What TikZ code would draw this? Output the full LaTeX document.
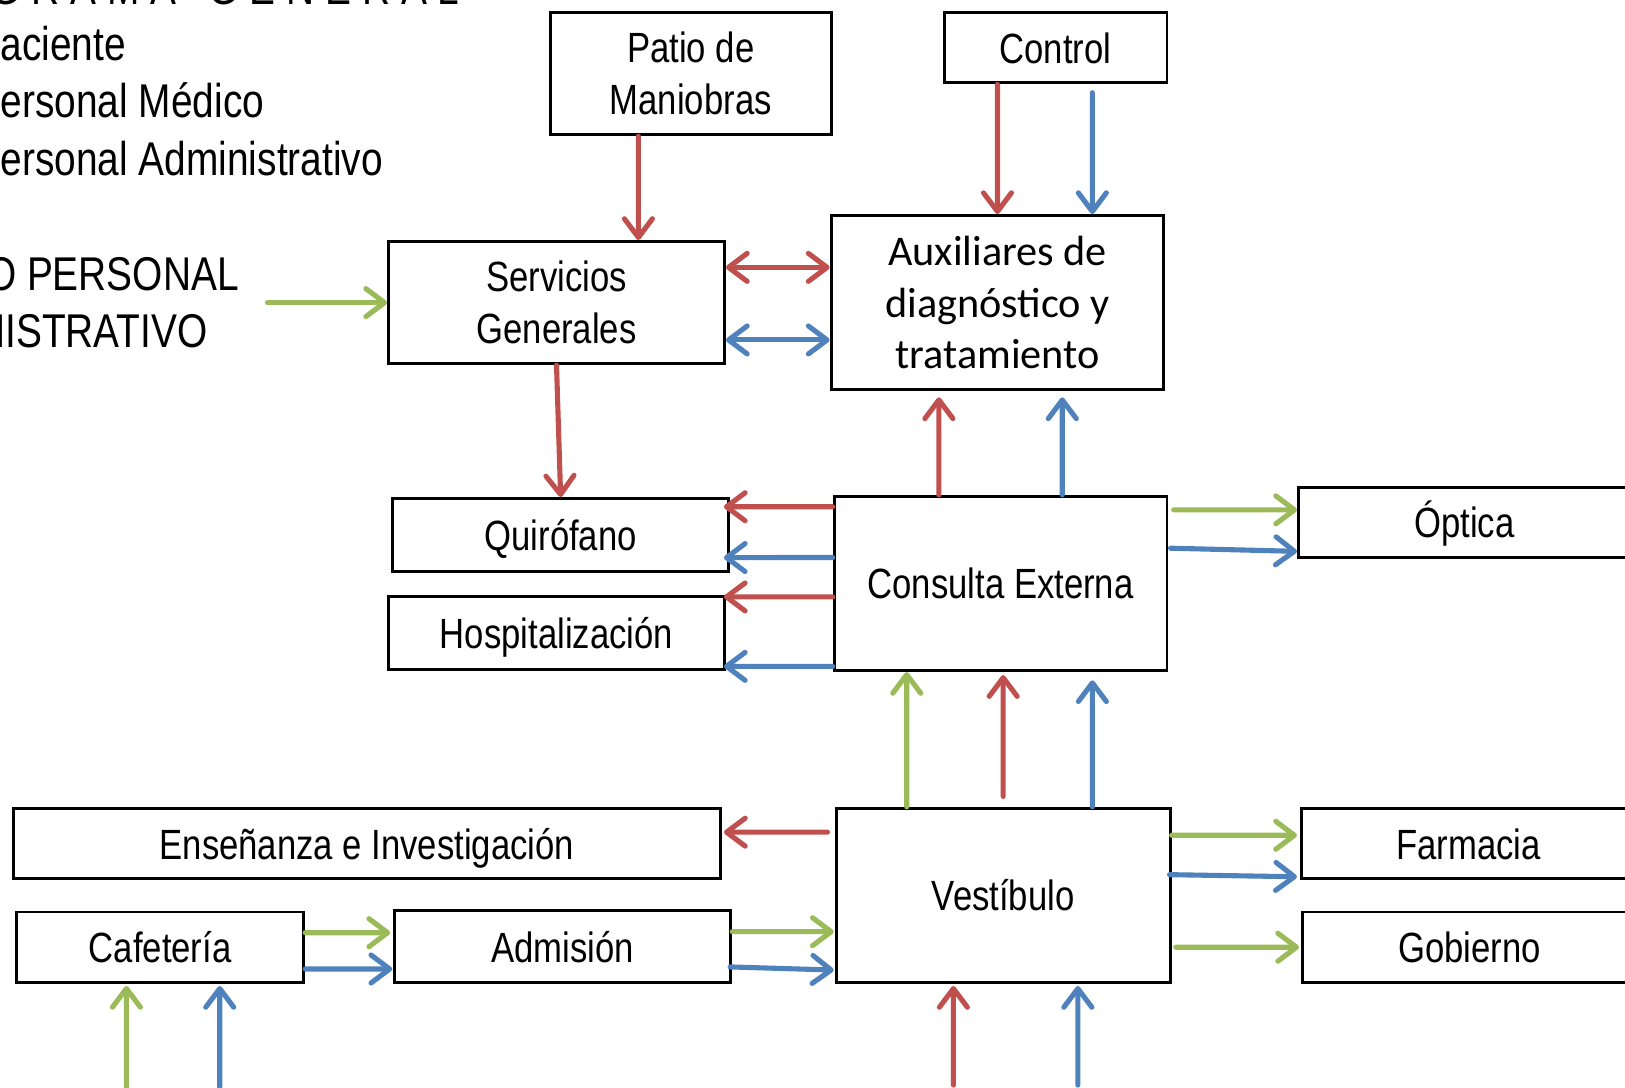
\documentclass[tikz,border=0pt]{standalone}
\usepackage{fontspec}
\setmainfont{Liberation Sans}[FakeStretch=0.82]
\newfontfamily\calibri{Carlito}
\usepackage{tikz}
\usetikzlibrary{arrows.meta}
\definecolor{flred}{HTML}{C0504D}
\definecolor{flblue}{HTML}{4F81BD}
\definecolor{flgreen}{HTML}{9BBB59}

\begin{document}
\begin{tikzpicture}[x=0.01cm,y=-0.01cm,
  >={Straight Barb[length=1.8mm,width=2.7mm,round]},
  box/.style={draw,line width=0.8pt,inner sep=2pt,align=center,font=\fontsize{11.6}{14.2}\selectfont},
  one/.style={box,text height=11pt,text depth=2.5pt},
  legend/.style={inner sep=0pt,font=\fontsize{13}{15}\selectfont},
  rf/.style={flred,line width=1.4pt,line cap=round},
  bf/.style={flblue,line width=1.4pt,line cap=round},
  gf/.style={flgreen,line width=1.4pt,line cap=round}]
\useasboundingbox (0,0) rectangle (1568,1049);
\clip (0,0) rectangle (1568,1049);
% leyenda
\node[legend,anchor=base east] (title) at (444,4) {D I A G R A M A\ \ \ G E N E R A L};
\node[legend,anchor=base west] (pac) at (-25,58) {Paciente};
\node[legend,anchor=base west] (med) at (-25,113) {Personal Médico};
\node[legend,anchor=base west] (admp) at (-25,169) {Personal Administrativo};
\node[legend,anchor=base east] (acc1) at (231,280) {ACCESO PERSONAL};
\node[legend,anchor=base east] (acc2) at (201,335) {ADMINISTRATIVO};
% areas
\node[box,minimum width=2.71cm,minimum height=1.18cm] (patio) at (666.5,71) {Patio de\\Maniobras};
\node[one,minimum width=2.15cm,minimum height=0.68cm] (control) at (1018.5,46) {Control};
\node[box,minimum width=3.24cm,minimum height=1.18cm] (serv) at (537,292) {Servicios\\Generales};
\node[box,minimum width=3.21cm,minimum height=1.68cm,font=\calibri\fontsize{11.6}{14.2}\selectfont] (aux) at (962.5,292) {Auxiliares de\\diagnóstico y\\tratamiento};
\node[one,minimum width=3.24cm,minimum height=0.70cm] (quiro) at (541,516) {Quirófano};
\node[one,minimum width=3.24cm,minimum height=0.70cm] (hosp) at (537,611) {Hospitalización};
\node[one,minimum width=3.21cm,minimum height=1.68cm] (cons) at (965.5,563) {Consulta Externa};
\node[one,minimum width=3.20cm,minimum height=0.68cm] (optica) at (1413,504) {Óptica};
\node[one,minimum width=6.82cm,minimum height=0.68cm] (ense) at (354,814) {Enseñanza e Investigación};
\node[one,minimum width=3.22cm,minimum height=1.68cm] (vest) at (968,864) {Vestíbulo};
\node[one,minimum width=3.22cm,minimum height=0.68cm] (farm) at (1417,814) {Farmacia};
\node[one,minimum width=3.22cm,minimum height=0.68cm] (gob) at (1418,914) {Gobierno};
\node[one,minimum width=2.77cm,minimum height=0.68cm] (cafe) at (154.5,914) {Cafetería};
\node[one,minimum width=3.24cm,minimum height=0.69cm] (adm) at (543,913.5) {Admisión};
% patio, control, servicios
\draw[rf,->] ([xshift=-5.05mm]patio.south) -- ([xshift=7.9mm]serv.north);
\draw[rf,->] ([xshift=-5.6mm]control.south) -- (aux.north);
\draw[bf,->] ([xshift=3.55mm,yshift=-0.8mm]control.south) -- ([xshift=9.15mm]aux.north);
\draw[rf,<->] ([yshift=3.4mm]serv.east) -- ([yshift=3.4mm]aux.west);
\draw[bf,<->] ([yshift=-3.6mm]serv.east) -- ([yshift=-3.6mm]aux.west);
\coordinate (acc) at (258,292);
\draw[gf,->] (acc) -- (serv.west);
\draw[rf,->] (serv.south) -- (quiro.north);
% consulta externa
\draw[rf,->] ([xshift=-5.95mm]cons.north) -- ([xshift=-5.65mm,yshift=-0.6mm]aux.south);
\draw[bf,->] ([xshift=5.95mm]cons.north) -- ([xshift=6.25mm,yshift=-0.6mm]aux.south);
\draw[rf,->] ([yshift=7.4mm]cons.west) -- ([xshift=-0.6mm,yshift=2.7mm]quiro.east);
\draw[bf,->] ([yshift=2.5mm]cons.west) -- ([xshift=-0.6mm,yshift=-2.2mm]quiro.east);
\draw[rf,->] ([yshift=-1.3mm]cons.west) -- ([xshift=-0.2mm,yshift=3.5mm]hosp.east);
\draw[bf,->] ([yshift=-8mm]cons.west) -- ([xshift=-0.2mm,yshift=-3.2mm]hosp.east);
\draw[gf,->] ([xshift=0.5mm,yshift=7.1mm]cons.east) -- ([yshift=1.2mm]optica.west);
\draw[bf,->] ([xshift=0.2mm,yshift=3.4mm]cons.east) -- ([yshift=-2.8mm]optica.west);
% vestibulo
\draw[gf,->] ([xshift=-9.3mm]vest.north) -- ([xshift=-9.05mm]cons.south);
\draw[rf,->] ([yshift=1mm]vest.north) -- ([xshift=0.25mm,yshift=-0.3mm]cons.south);
\draw[bf,->] ([xshift=8.6mm]vest.north) -- ([xshift=8.85mm,yshift=-0.8mm]cons.south);
\draw[rf,->] ([xshift=-0.7mm,yshift=6.1mm]vest.west) -- ([xshift=0.2mm,yshift=1.1mm]ense.east);
\draw[gf,->] ([yshift=5.8mm]vest.east) -- ([xshift=-0.3mm,yshift=0.8mm]farm.west);
\draw[bf,->] ([xshift=-0.2mm,yshift=2mm]vest.east) -- ([xshift=-0.3mm,yshift=-3.2mm]farm.west);
\draw[gf,->] ([xshift=0.4mm,yshift=-5mm]vest.east) -- ([xshift=-0.2mm]gob.west);
% cafeteria y admision
\draw[gf,->] ([yshift=1.4mm]cafe.east) -- ([xshift=-0.3mm,yshift=1.35mm]adm.west);
\draw[bf,->] ([yshift=-2.1mm]cafe.east) -- ([xshift=-0.1mm,yshift=-2.15mm]adm.west);
\draw[gf,->] ([yshift=1.45mm]adm.east) -- ([xshift=-0.1mm,yshift=-3.5mm]vest.west);
\draw[bf,->] ([xshift=-0.2mm,yshift=-1.95mm]adm.east) -- ([xshift=-0.1mm,yshift=-7.2mm]vest.west);
% entradas
\coordinate (cafeg) at (122,1049);
\coordinate (cafeb) at (212,1049);
\coordinate (vestr) at (920,1047);
\coordinate (vestb) at (1040,1047);
\draw[gf,->] (cafeg) -- ([xshift=-3.25mm,yshift=-0.2mm]cafe.south);
\draw[bf,->] (cafeb) -- ([xshift=5.75mm,yshift=-0.2mm]cafe.south);
\draw[rf,->] (vestr) -- ([xshift=-4.8mm,yshift=-0.2mm]vest.south);
\draw[bf,->] (vestb) -- ([xshift=7.2mm,yshift=-0.2mm]vest.south);
\end{tikzpicture}
\end{document}
